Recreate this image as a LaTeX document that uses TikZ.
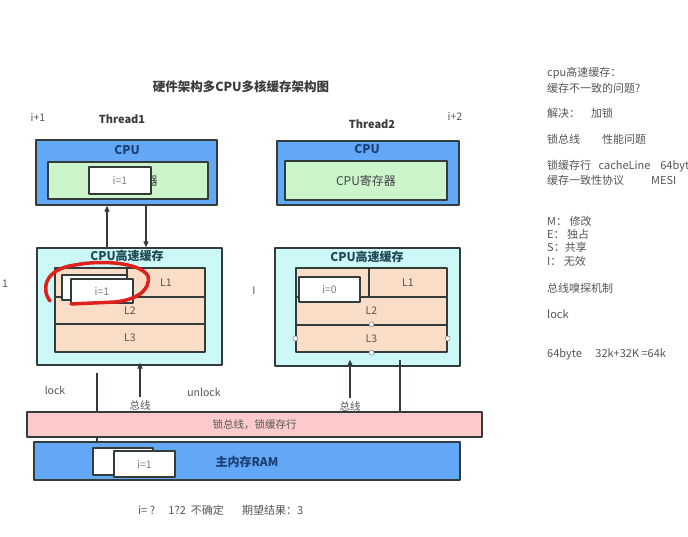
\documentclass[tikz,border=0pt]{standalone}
\usepackage{fontspec}
\setmainfont{Noto Sans CJK SC}
\usetikzlibrary{arrows.meta}
\definecolor{framec}{HTML}{333B3B}
\definecolor{cpuc}{HTML}{62A8F6}
\definecolor{regc}{HTML}{CCF5CC}
\definecolor{cachec}{HTML}{CCF8F8}
\definecolor{linec}{HTML}{F9DDC6}
\definecolor{busc}{HTML}{FCCACA}
\definecolor{navyc}{HTML}{1D3F72}
\definecolor{tealc}{HTML}{1F4A55}
\definecolor{textc}{HTML}{555555}
\definecolor{markc}{HTML}{E0201C}
\begin{document}
\begin{tikzpicture}[x=1pt, y=-1pt, line join=round, >={Triangle[length=6pt,width=5pt]},
	box/.style={draw=framec, line width=1.3pt, inner sep=0pt, minimum width=#1},
	hbox/.style={minimum height=#1},
	val/.style={box=62pt, fill=white, text=gray, font=\fontsize{10.5}{12}\selectfont},
	txt/.style={text=textc, font=\fontsize{10.5}{12}\selectfont, inner sep=0pt},
	side/.style={txt, anchor=west, font=\fontsize{11}{13}\selectfont},
	head/.style={font=\bfseries\fontsize{12}{14}\selectfont, inner sep=0pt}]
	\clip (0,0) rectangle (688,537);
	\fill[white] (0,0) rectangle (688,537);
	% titles
	\node[head, font=\bfseries\fontsize{12.5}{14}\selectfont, text=textc!70!black] (title) at (241,87) {硬件架构多CPU多核缓存架构图};
	\node[txt] (inca) at (38,117) {i+1};
	\node[head, font=\bfseries\fontsize{11}{13}\selectfont, text=textc!70!black] (threada) at (122,119) {Thread1};
	\node[head, font=\bfseries\fontsize{11}{13}\selectfont, text=textc!70!black] (threadb) at (372,124) {Thread2};
	\node[txt] (incb) at (455,116) {i+2};
	% cpu 1
	\node[box=181pt, hbox=65pt, fill=cpuc] (cpua) at (126.5,172.5) {};
	\node[head, text=navyc] (cpualab) at (127,150) {CPU};
	\node[box=160pt, hbox=37pt, fill=regc, text=textc!80!black, font=\fontsize{12}{14}\selectfont] (rega) at (128,180.5) {CPU寄存器};
	\node[val, minimum width=62pt, minimum height=27pt] (vala) at (120,180.5) {i=1};
	% cpu 2
	\node[box=182pt, hbox=64pt, fill=cpuc] (cpub) at (368,173) {};
	\node[head, text=navyc] (cpublab) at (367,149) {CPU};
	\node[box=162pt, hbox=39pt, fill=regc, text=textc!80!black, font=\fontsize{12}{14}\selectfont] (regb) at (366,180.5) {CPU寄存器};
	% cache 1
	\node[box=185pt, hbox=117pt, fill=cachec] (cachea) at (129.5,306.5) {};
	\node[head, text=tealc] (cachealab) at (127,256) {CPU高速缓存};
	\node[box=72pt, hbox=29pt, fill=linec] (l0a) at (91,282.5) {};
	\node[box=78pt, hbox=29pt, fill=linec, txt] (l1a) at (166,282.5) {L1};
	\node[box=150pt, hbox=27pt, fill=linec, txt] (l2a) at (130,310.5) {L2};
	\node[box=150pt, hbox=28pt, fill=linec, txt] (l3a) at (130,338) {L3};
	\node[val, minimum width=65pt, minimum height=25pt] (olda) at (94.5,287.5) {};
	\node[val, minimum height=24pt] (valb) at (102,291) {i=1};
	\draw[markc, line width=3.5pt, line cap=round] (50,301) .. controls (41,290) and (44,269) .. (75,265)
		.. controls (100,260) and (140,262) .. (148,276) .. controls (151,291) and (135,300) .. (115,302) -- (71,304);
	\node[txt] (onea) at (5,284) {1};
	% cache 2
	\node[box=185pt, hbox=118pt, fill=cachec] (cacheb) at (367.5,307) {};
	\node[head, text=tealc] (cacheblab) at (367,257) {CPU高速缓存};
	\node[box=73pt, hbox=29pt, fill=linec] (l0b) at (332.5,282.5) {};
	\node[box=78pt, hbox=29pt, fill=linec, txt] (l1b) at (408,282.5) {L1};
	\node[box=151pt, hbox=28pt, fill=linec, txt] (l2b) at (371.5,311) {L2};
	\node[box=151pt, hbox=27pt, fill=linec, txt] (l3b) at (371.5,338.5) {L3};
	\node[val, minimum width=61pt, minimum height=25pt] (valc) at (329.5,289.5) {i=0};
	\foreach \p in {north,west,east,south}
		\draw[gray, fill=white, line width=0.5pt] (l3b.\p) circle (2.5pt);
	\node[txt] (oneb) at (254,291) {I};
	% cpu <-> cache
	\draw[->, line width=1.2pt, framec] (cachea.north -| 107,0) -- (cpua.south -| 107,0);
	\draw[->, line width=1.2pt, framec] (cpua.south -| 146,0) -- (cachea.north -| 146,0);
	% bus
	\node[box=426pt, hbox=38pt, fill=cpuc] (rama) at (247,461) {};
	\draw[line width=1.2pt, framec] (cachea.south -| 97,0) ++(0,7) -- (rama.north -| 97,0);
	\node[box=455pt, hbox=25pt, fill=busc, txt, font=\fontsize{10.5}{12}\selectfont] (busbar) at (254.5,424.5) {锁总线，锁缓存行};
	\node[txt] (busa) at (140,405) {总线};
	\node[txt] (busb) at (350,406) {总线};
	\draw[->, line width=1.2pt, framec] (busa.north) ++(0,-3) -- ([yshift=3pt]cachea.south -| busa);
	\draw[->, line width=1.2pt, framec] (busb.north) ++(0,-3) -- ([yshift=7pt]cacheb.south -| busb);
	\draw[line width=1.2pt, framec] ([yshift=7pt]cacheb.south -| 400,0) -- (busbar.north -| 400,0);
	\node[txt] (locka) at (55,390) {lock};
	\node[txt] (unlocka) at (204,392) {unlock};
	% main memory
	\node[head, text=navyc] (ramlab) at (247,462) {主内存RAM};
	\node[val, minimum width=60pt, minimum height=27pt] (oldb) at (123,461.5) {};
	\node[val, minimum width=61pt, minimum height=26pt] (vald) at (144.5,464) {i=1};
	\node[side] (result) at (138,510) {i= ?\quad\ 1?2\ \ 不确定\quad\ \ \ 期望结果：3};
	% notes
	\node[side] (notea) at (547,73) {cpu高速缓存：};
	\node[side] (noteb) at (547,88) {缓存不一致的问题?};
	\node[side] (notec) at (547,113) {解决：\quad 加锁};
	\node[side] (noted) at (547,139) {锁总线\qquad 性能问题};
	\node[side] (notee) at (547,166) {锁缓存行\ \ \ cacheLine\ \ \ \ 64byte};
	\node[side] (notef) at (547,180) {缓存一致性协议\qquad\ \ MESI};
	\node[side] (noteg) at (547,221) {M：\ 修改};
	\node[side] (noteh) at (547,234) {E：\ 独占};
	\node[side] (notei) at (547,247) {S：共享};
	\node[side] (notej) at (547,261) {I：\ 无效};
	\node[side] (notek) at (547,288) {总线嗅探机制};
	\node[side] (notel) at (547,314) {lock};
	\node[side] (notem) at (547,354) {64byte\quad\ 32k+32K =64k};
\end{tikzpicture}
\end{document}
